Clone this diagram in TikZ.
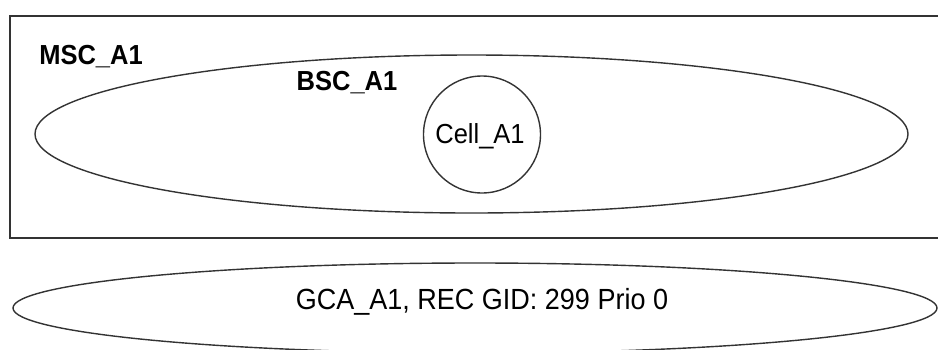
\documentclass[tikz,border=0pt]{standalone}
\usepackage{fontspec}
\setmainfont{Liberation Sans}
\usetikzlibrary{shapes.geometric}
\newcommand{\talltext}[1]{\scalebox{1}[1.08]{#1}}
\begin{document}
\begin{tikzpicture}[x=1pt,y=-1pt,
  outline/.style={draw=black!80, line width=1.4pt},
  lbl/.style={inner sep=0pt, font=\fontsize{25.5}{30}\selectfont},
  blbl/.style={inner sep=0pt, font=\fontsize{25.5}{30}\selectfont\bfseries}]
\useasboundingbox (0,0) rectangle (938,349);
\clip (0,0) rectangle (938,349);
% MSC box
\draw[draw=black!80, line width=2pt] (950,16) -- (10,16) -- (10,238) -- (950,238);
% BSC ellipse
\node[ellipse, outline, minimum width=873pt, minimum height=158pt, inner sep=0pt] (bsc) at (471.5,134) {};
% Cell circle
\node[circle, outline, minimum size=117pt, inner sep=0pt] (cell) at (482,134.5) {};
\node[lbl] (celltext) at (480,136) {\talltext{Cell\_A1}};
% labels
\node[blbl] (msc) at (91,57) {\talltext{MSC\_A1}};
\node[blbl] (bsclbl) at (347,83) {\talltext{BSC\_A1}};
% GCA ellipse
\node[ellipse, outline, minimum width=924pt, minimum height=90pt, inner sep=0pt] (gca) at (475,308) {};
\node[lbl, font=\fontsize{27}{32}\selectfont] (gcatext) at (482,302) {\talltext{GCA\_A1, REC GID: 299 Prio 0}};
\end{tikzpicture}
\end{document}
